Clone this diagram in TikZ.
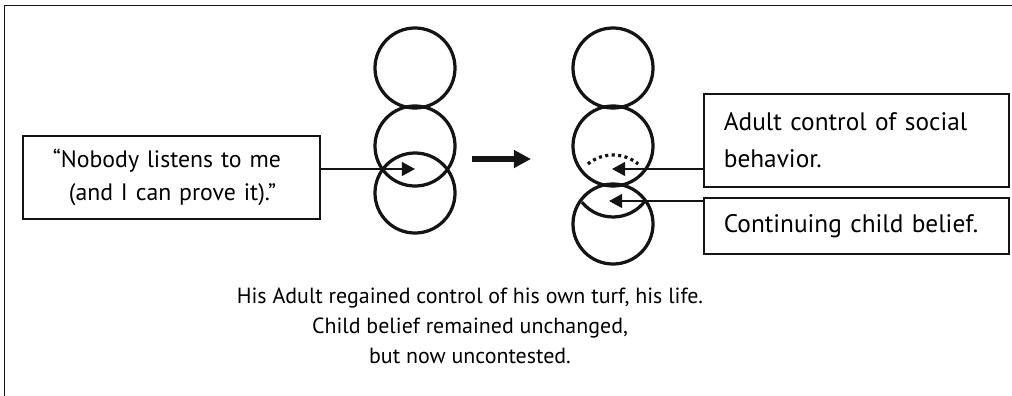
\documentclass[tikz,border=0pt]{standalone}
\usepackage{fontspec}
\setmainfont{PT Sans}
\usepackage{xcolor}
\usepackage{tikz}
\usetikzlibrary{arrows.meta}
\definecolor{ink}{RGB}{20, 20, 20}
\tikzset{>={Triangle[length=3.3mm, width=3.5mm]}}
\tikzset{
  ring/.style = {draw = ink, circle, line width = 2.3pt, minimum size = 2cm, inner sep = 0pt},
  note/.style = {draw = ink, line width = 1.2pt, anchor = north west, inner xsep = 0pt,
                 align = left, font = \fontsize{18}{26}\selectfont},
  pointer/.style = {->, draw = ink, line width = 1.2pt}
}

\begin{document}
\begin{tikzpicture}[x = 0.025cm, y = -0.025cm]
  \useasboundingbox (0, 0) rectangle (1012, 395);
  \draw[ink, line width = 1.3pt] (4.5, 400) |- (1020, 5.5);

  % before: the child circle overlaps the adult circle
  \node[ring] (lTop) at (415, 68) {};
  \node[ring] (lMid) at (415, 146) {};
  \node[ring] (lLow) at (415, 193) {};

  % after: the child circle is pushed down
  \node[ring] (rTop) at (613, 68) {};
  \node[ring] (rMid) at (613, 146) {};
  \node[ring] (rLow) at (613, 224) {};
  \draw[ink, line width = 2.3pt, dash pattern = on 2.2pt off 2.4pt]
    (613, 195) ++(231:40) arc[start angle = 231, end angle = 309, radius = 40];
  \draw[ink, line width = 2.3pt]
    (613, 177) ++(141:40) arc[start angle = 141, end angle = 38, radius = 40];

  % boxes
  \node[note, text width = 7.425cm, minimum height = 2.075cm,
        font = \fontsize{16.9}{24}\selectfont] (quote) at (22, 135)
    {\hspace*{0.75cm}“Nobody listens to me\\\hspace*{1.15cm}(and I can prove it).”};
  \node[note, text width = 7.625cm, minimum height = 2.325cm] (adult) at (703, 93)
    {\hspace*{0.5cm}Adult control of social\\\hspace*{0.5cm}behavior.};
  \node[note, text width = 7.625cm, minimum height = 1.4cm] (child) at (703, 197)
    {\hspace*{0.5cm}Continuing child belief.};

  % pointers
  \coordinate (tipQuote) at (415, 169);
  \coordinate (tipAdult) at (612, 169);
  \coordinate (tipChild) at (609, 201);
  \draw[pointer] (quote.east |- tipQuote) -- (tipQuote);
  \draw[pointer] (adult.west |- tipAdult) -- (tipAdult);
  \draw[pointer] (child.west |- tipChild) -- (tipChild);

  % the change
  \coordinate (from) at (472, 159);
  \coordinate (to) at (531, 159);
  \draw[-{Triangle[length=4.3mm, width=4.3mm]}, ink, line width = 4.2pt] (from) -- (to);

  \node[align = center, font = \fontsize{15.6}{21.3}\selectfont, anchor = base] (moral) at (470, 363)
    {His Adult regained control of his own turf, his life.\\
     Child belief remained unchanged,\\
     but now uncontested.};
\end{tikzpicture}
\end{document}
